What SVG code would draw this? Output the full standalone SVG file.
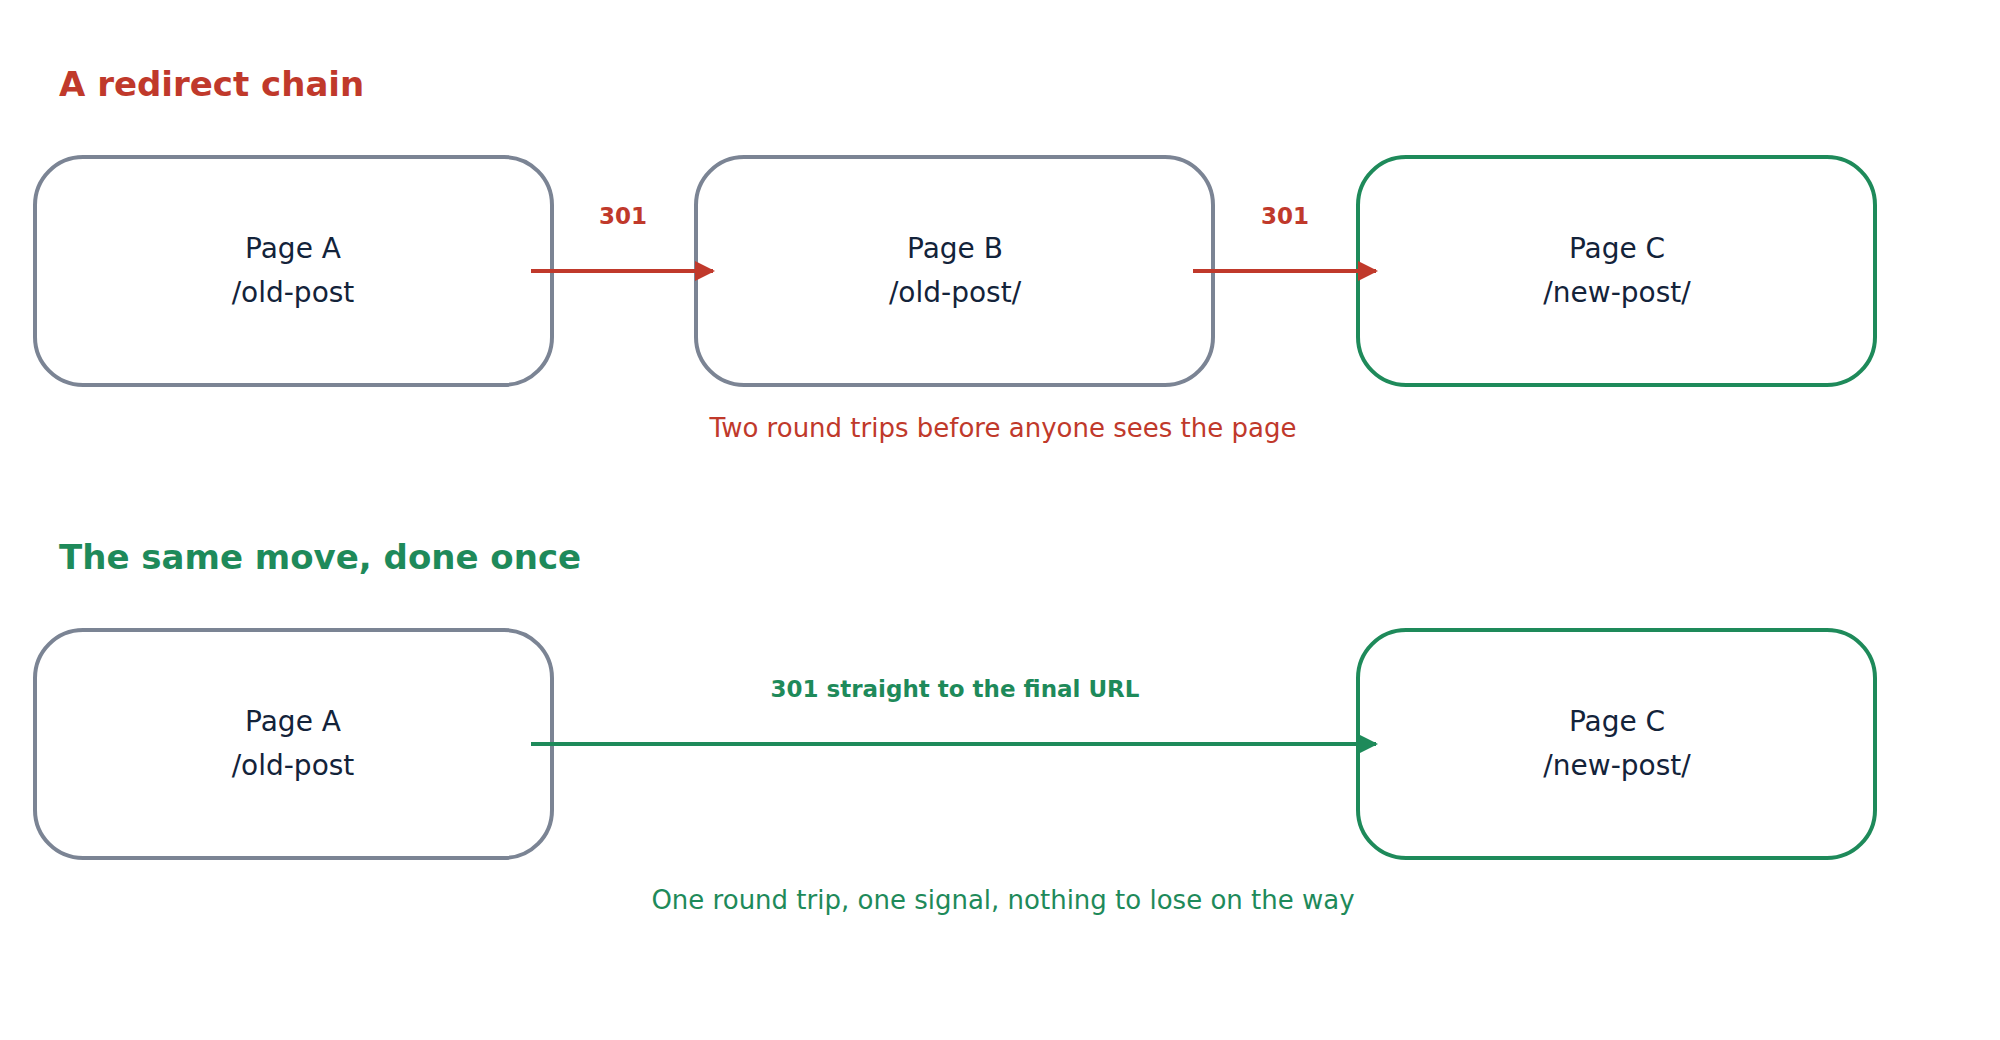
<svg xmlns="http://www.w3.org/2000/svg" width="2000" height="1040" viewBox="0 0 2000 1040">
<style>
text{font-family:"DejaVu Sans","Noto Sans",sans-serif}
.title{font-size:34px;font-weight:bold}
.node{fill:#fff;stroke-width:4}
.gray{stroke:#7b8494}
.green{stroke:#1e8a5a}
.nt{font-size:28px;fill:#13233a;text-anchor:middle}
.lbl{font-size:23px;font-weight:bold;text-anchor:middle}
.cap{font-size:26px;text-anchor:middle}
</style>
<defs>
<marker id="ar" viewBox="0 0 10 10" refX="9" refY="5" markerWidth="5" markerHeight="5" orient="auto" markerUnits="strokeWidth"><path d="M0,0L10,5L0,10z" fill="#c0392b"/></marker>
<marker id="ag" viewBox="0 0 10 10" refX="9" refY="5" markerWidth="5" markerHeight="5" orient="auto" markerUnits="strokeWidth"><path d="M0,0L10,5L0,10z" fill="#1e8a5a"/></marker>
</defs>
<rect width="2000" height="1040" fill="#fff"/>
<text x="59" y="96" class="title" fill="#c0392b">A redirect chain</text>
<text x="59" y="569" class="title" fill="#1e8a5a">The same move, done once</text>
<g id="a1"><rect x="35" y="157" width="517" height="228" rx="48" class="node gray"/><text x="293" y="258" class="nt">Page A</text><text x="293" y="302" class="nt">/old-post</text></g>
<g id="b1"><rect x="696" y="157" width="517" height="228" rx="48" class="node gray"/><text x="955" y="258" class="nt">Page B</text><text x="955" y="302" class="nt">/old-post/</text></g>
<g id="c1"><rect x="1358" y="157" width="517" height="228" rx="48" class="node green"/><text x="1617" y="258" class="nt">Page C</text><text x="1617" y="302" class="nt">/new-post/</text></g>
<g id="a2"><rect x="35" y="630" width="517" height="228" rx="48" class="node gray"/><text x="293" y="731" class="nt">Page A</text><text x="293" y="775" class="nt">/old-post</text></g>
<g id="c2"><rect x="1358" y="630" width="517" height="228" rx="48" class="node green"/><text x="1617" y="731" class="nt">Page C</text><text x="1617" y="775" class="nt">/new-post/</text></g>
<g id="connectors" stroke-width="4" fill="none">
<line x1="531" y1="271" x2="713" y2="271" stroke="#c0392b" marker-end="url(#ar)"/>
<line x1="1193" y1="271" x2="1376" y2="271" stroke="#c0392b" marker-end="url(#ar)"/>
<line x1="531" y1="744" x2="1376" y2="744" stroke="#1e8a5a" marker-end="url(#ag)"/>
</g>
<text x="623" y="224" class="lbl" fill="#c0392b">301</text>
<text x="1285" y="224" class="lbl" fill="#c0392b">301</text>
<text x="955" y="697" class="lbl" fill="#1e8a5a">301 straight to the final URL</text>
<text x="1003" y="437" class="cap" fill="#c0392b">Two round trips before anyone sees the page</text>
<text x="1003" y="909" class="cap" fill="#1e8a5a">One round trip, one signal, nothing to lose on the way</text>
</svg>
